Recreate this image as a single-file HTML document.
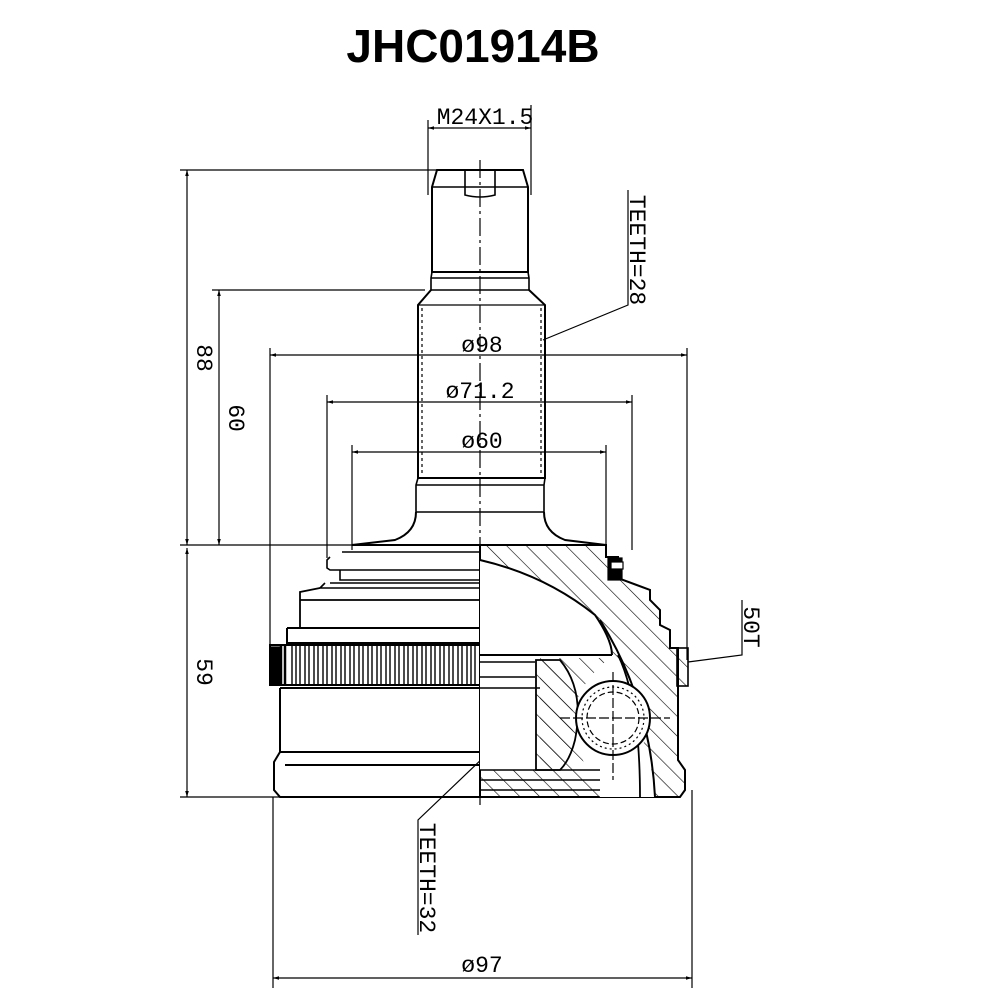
<!DOCTYPE html>
<html><head><meta charset="utf-8"><style>
html,body{margin:0;padding:0;background:#fff;}
svg{display:block;}
.t{font-family:"Liberation Mono",monospace;font-size:23px;fill:#000;}
</style></head><body>
<svg width="1000" height="1000" viewBox="0 0 1000 1000" xmlns="http://www.w3.org/2000/svg">
<defs>
<pattern id="h" patternUnits="userSpaceOnUse" width="14" height="14" patternTransform="rotate(-45)">
<line x1="0" y1="0" x2="0" y2="14" stroke="#000" stroke-width="1.2"/>
</pattern>
<marker id="a" viewBox="0 0 10 10" refX="10" refY="5" markerWidth="10" markerHeight="6" orient="auto-start-reverse" markerUnits="userSpaceOnUse"><path d="M0,2 L10,5 L0,8z" fill="#000"/></marker>
</defs>
<text x="473" y="62" text-anchor="middle" font-family="Liberation Sans,sans-serif" font-weight="bold" font-size="46">JHC01914B</text>

<g stroke="#000" stroke-width="1.2" fill="none">
<line x1="428" y1="120" x2="428" y2="195"/><line x1="531" y1="105" x2="531" y2="195"/>
<line x1="428" y1="128" x2="531" y2="128" marker-start="url(#a)" marker-end="url(#a)"/>
<line x1="180" y1="170" x2="470" y2="170"/>
<line x1="180" y1="797" x2="285" y2="797"/>
<line x1="187" y1="170" x2="187" y2="545" marker-start="url(#a)" marker-end="url(#a)"/>
<line x1="187" y1="548" x2="187" y2="797" marker-start="url(#a)" marker-end="url(#a)"/>
<line x1="180" y1="545" x2="480" y2="545"/>
<line x1="212" y1="290" x2="425" y2="290"/>
<line x1="219" y1="290" x2="219" y2="545" marker-start="url(#a)" marker-end="url(#a)"/>
<line x1="270" y1="348" x2="270" y2="650"/><line x1="687" y1="348" x2="687" y2="660"/>
<line x1="270" y1="355" x2="687" y2="355" marker-start="url(#a)" marker-end="url(#a)"/>
<line x1="327" y1="395" x2="327" y2="558"/><line x1="632" y1="395" x2="632" y2="550"/>
<line x1="327" y1="402" x2="632" y2="402" marker-start="url(#a)" marker-end="url(#a)"/>
<line x1="352" y1="445" x2="352" y2="550"/><line x1="606" y1="445" x2="606" y2="548"/>
<line x1="352" y1="452" x2="606" y2="452" marker-start="url(#a)" marker-end="url(#a)"/>
<line x1="273" y1="797" x2="273" y2="988"/><line x1="692" y1="790" x2="692" y2="988"/>
<line x1="273" y1="978" x2="692" y2="978" marker-start="url(#a)" marker-end="url(#a)"/>
<polyline points="628,190 628,305 543,340"/>
<polyline points="530,713 418,820 418,935"/>
<polyline points="742,600 742,655 688,662"/>

<line x1="480" y1="160" x2="480" y2="805" stroke-dasharray="18,4,3,4"/>

<path d="M437,170 H523 L528,187 V272 H432 V187 Z" stroke-width="2"/>
<path d="M432,187 H528 M465,170 V195 Q480,199 495,195 V170" stroke-width="1.6"/>
<path d="M432,272 L431,278 V290 H529 V278 L528,272 M431,278 H529" stroke-width="1.6"/>
<path d="M431,290 L418,305 V478 H545 V305 L529,290" stroke-width="2"/>
<line x1="418" y1="305" x2="545" y2="305"/>
<line x1="422" y1="308" x2="422" y2="475" stroke-dasharray="3,3"/>
<line x1="541" y1="308" x2="541" y2="475" stroke-dasharray="3,3"/>
<path d="M418,478 L416,485 V512 H544 V485 L545,478 M416,485 H544" stroke-width="1.6"/>
<path d="M416,512 Q416,532 395,540 L352,545 M544,512 Q544,532 565,540 L606,545" stroke-width="2"/>

<path d="M352,545 H480" stroke-width="2"/>
<path d="M342,552 H480 M330,557 L327,560 V568 L330,570 H480 M340,570 V580 H480 M330,583 H480 M325,583 L320,588 H480" stroke-width="1.6"/>
<path d="M320,588 L300,592 V628 H480 M300,600 H480" stroke-width="1.8"/>
<path d="M287,628 H480 V645 M287,628 V643 H480" stroke-width="2"/>
<rect x="270" y="645" width="210" height="40" stroke-width="2"/>
<rect x="270" y="647" width="11" height="37" fill="#000"/>
<path d="M292,645 V685 M296,645 V685 M300,645 V685 M305,645 V685 M309,645 V685 M314,645 V685 M318,645 V685 M323,645 V685 M327,645 V685 M332,645 V685 M336,645 V685 M341,645 V685 M345,645 V685 M350,645 V685 M354,645 V685 M359,645 V685 M363,645 V685 M368,645 V685 M372,645 V685 M377,645 V685 M381,645 V685 M386,645 V685 M390,645 V685 M395,645 V685 M399,645 V685 M404,645 V685 M408,645 V685 M413,645 V685 M417,645 V685 M422,645 V685 M426,645 V685 M431,645 V685 M435,645 V685 M440,645 V685 M444,645 V685 M449,645 V685 M453,645 V685 M458,645 V685 M462,645 V685 M467,645 V685 M471,645 V685 M475,645 V685" stroke-width="1.4"/>
<path d="M281,645 V685 M285,645 V685" stroke-width="2.5"/>
<path d="M280,688 H480 M280,688 V752 L274,762 V790 L280,797 H480 M280,752 H480 M285,765 H480" stroke-width="2"/>

<path d="M480,545 H606 V557 H618 V578 L650,590 V600 L660,610 V625 L670,630 V648 H678 V760 L685,770 V790 L680,797 H480 Z" stroke-width="2" fill="url(#h)"/>
<path d="M480,545 V560 Q545,575 600,620 L612,650 L650,760 L655,797 L600,797 Q580,760 570,720 Q580,680 610,658 L540,658 V770 H480 Z" fill="#fff" stroke="none"/>
<path d="M480,560 Q545,575 595,615 Q612,640 612,655 M480,655 H612" stroke-width="2"/>
<path d="M600,620 Q650,700 655,797" stroke-width="2"/>
<path d="M618,655 Q640,700 640,797" stroke-width="1.8"/>
<path d="M480,662 H535 M480,677 H535 M480,688 H540" stroke-width="1.6"/>
<path d="M536,660 H560 Q585,690 575,740 Q570,760 560,770 H536 Z" fill="url(#h)" stroke-width="1.8"/>
<path d="M480,770 H600 M480,780 H600 M480,790 H600" stroke-width="1.4"/>
<rect x="608" y="558" width="14" height="22" fill="#000"/>
<rect x="611" y="562" width="12" height="7" fill="#fff"/>
<rect x="677" y="648" width="11" height="38" fill="url(#h)" stroke-width="1.6"/>
<circle cx="613" cy="718" r="37" fill="#fff" stroke-width="2"/>
<circle cx="613" cy="718" r="26" stroke-dasharray="6,3"/>
<circle cx="613" cy="718" r="31" stroke-dasharray="2,3"/>
<line x1="560" y1="718" x2="670" y2="718" stroke-dasharray="10,3"/>
<line x1="613" y1="672" x2="613" y2="780" stroke-dasharray="10,3"/>
</g>

<text class="t" x="485" y="124" text-anchor="middle">M24X1.5</text>
<text class="t" x="482" y="352" text-anchor="middle">ø98</text>
<text class="t" x="480" y="398" text-anchor="middle">ø71.2</text>
<text class="t" x="482" y="448" text-anchor="middle">ø60</text>
<text class="t" x="482" y="972" text-anchor="middle">ø97</text>
<text class="t" transform="translate(197,358) rotate(90)" text-anchor="middle">88</text>
<text class="t" transform="translate(229,418) rotate(90)" text-anchor="middle">60</text>
<text class="t" transform="translate(197,672) rotate(90)" text-anchor="middle">59</text>
<text class="t" transform="translate(630,250) rotate(90)" text-anchor="middle">TEETH=28</text>
<text class="t" transform="translate(420,878) rotate(90)" text-anchor="middle">TEETH=32</text>
<text class="t" transform="translate(744,627) rotate(90)" text-anchor="middle">50T</text>
</svg>
</body></html>
